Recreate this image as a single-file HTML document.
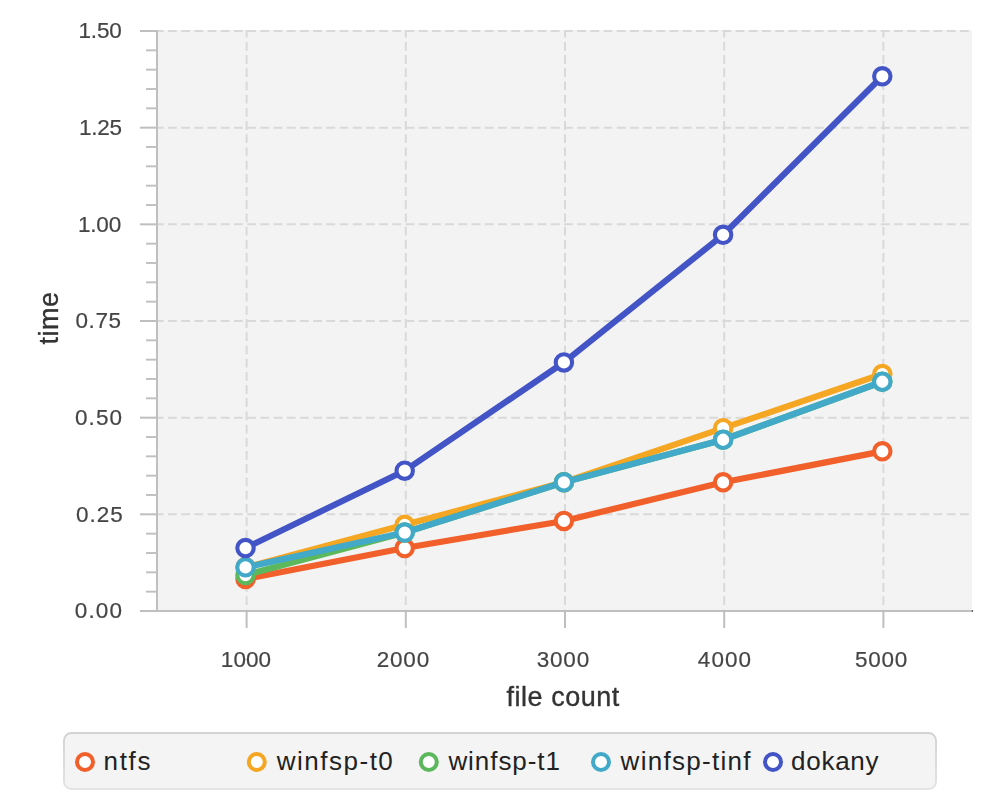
<!DOCTYPE html>
<html><head><meta charset="utf-8"><style>
html,body{margin:0;padding:0;background:#fff;width:1000px;height:800px;overflow:hidden;}
svg{position:absolute;left:0;top:0;display:block;}
#m{will-change:transform;}
text{font-family:"Liberation Sans",sans-serif;}
.lab{font-size:22.5px;fill:#454545;stroke:#454545;stroke-width:0.2px;}
.ttl{font-size:27px;fill:#333;stroke:#333;stroke-width:0.35px;}
.leg{font-size:26px;fill:#222;}

</style></head><body>
<svg id="m" width="1000" height="722" viewBox="0 0 1000 722">
<defs><clipPath id="pc"><rect x="157" y="30" width="815" height="581"/></clipPath></defs>
<rect x="157" y="30" width="815" height="581" fill="#f3f3f3"/>
<g clip-path="url(#pc)">
<line x1="154.8" y1="514.33" x2="972" y2="514.33" stroke="#d9d9d9" stroke-width="2" stroke-dasharray="8.8 4.4"/>
<line x1="154.8" y1="417.67" x2="972" y2="417.67" stroke="#d9d9d9" stroke-width="2" stroke-dasharray="8.8 4.4"/>
<line x1="154.8" y1="321.00" x2="972" y2="321.00" stroke="#d9d9d9" stroke-width="2" stroke-dasharray="8.8 4.4"/>
<line x1="154.8" y1="224.33" x2="972" y2="224.33" stroke="#d9d9d9" stroke-width="2" stroke-dasharray="8.8 4.4"/>
<line x1="154.8" y1="127.67" x2="972" y2="127.67" stroke="#d9d9d9" stroke-width="2" stroke-dasharray="8.8 4.4"/>
<line x1="154.8" y1="31.00" x2="972" y2="31.00" stroke="#d9d9d9" stroke-width="2" stroke-dasharray="8.8 4.4"/>
<line x1="246.60" y1="28.7" x2="246.60" y2="611" stroke="#d9d9d9" stroke-width="2" stroke-dasharray="8.8 4.4"/>
<line x1="405.80" y1="28.7" x2="405.80" y2="611" stroke="#d9d9d9" stroke-width="2" stroke-dasharray="8.8 4.4"/>
<line x1="565.00" y1="28.7" x2="565.00" y2="611" stroke="#d9d9d9" stroke-width="2" stroke-dasharray="8.8 4.4"/>
<line x1="724.20" y1="28.7" x2="724.20" y2="611" stroke="#d9d9d9" stroke-width="2" stroke-dasharray="8.8 4.4"/>
<line x1="883.40" y1="28.7" x2="883.40" y2="611" stroke="#d9d9d9" stroke-width="2" stroke-dasharray="8.8 4.4"/>
</g>
<line x1="157" y1="30" x2="157" y2="612" stroke="#bfbfbf" stroke-width="2"/>
<line x1="140" y1="611" x2="972" y2="611" stroke="#bfbfbf" stroke-width="2"/>
<rect x="971.8" y="610" width="1.3" height="2" fill="#666"/>
<line x1="140" y1="611.00" x2="157" y2="611.00" stroke="#bfbfbf" stroke-width="2"/>
<line x1="146" y1="591.67" x2="157" y2="591.67" stroke="#bfbfbf" stroke-width="1.9"/>
<line x1="146" y1="572.33" x2="157" y2="572.33" stroke="#bfbfbf" stroke-width="1.9"/>
<line x1="146" y1="553.00" x2="157" y2="553.00" stroke="#bfbfbf" stroke-width="1.9"/>
<line x1="146" y1="533.67" x2="157" y2="533.67" stroke="#bfbfbf" stroke-width="1.9"/>
<line x1="140" y1="514.33" x2="157" y2="514.33" stroke="#bfbfbf" stroke-width="2"/>
<line x1="146" y1="495.00" x2="157" y2="495.00" stroke="#bfbfbf" stroke-width="1.9"/>
<line x1="146" y1="475.67" x2="157" y2="475.67" stroke="#bfbfbf" stroke-width="1.9"/>
<line x1="146" y1="456.33" x2="157" y2="456.33" stroke="#bfbfbf" stroke-width="1.9"/>
<line x1="146" y1="437.00" x2="157" y2="437.00" stroke="#bfbfbf" stroke-width="1.9"/>
<line x1="140" y1="417.67" x2="157" y2="417.67" stroke="#bfbfbf" stroke-width="2"/>
<line x1="146" y1="398.33" x2="157" y2="398.33" stroke="#bfbfbf" stroke-width="1.9"/>
<line x1="146" y1="379.00" x2="157" y2="379.00" stroke="#bfbfbf" stroke-width="1.9"/>
<line x1="146" y1="359.67" x2="157" y2="359.67" stroke="#bfbfbf" stroke-width="1.9"/>
<line x1="146" y1="340.33" x2="157" y2="340.33" stroke="#bfbfbf" stroke-width="1.9"/>
<line x1="140" y1="321.00" x2="157" y2="321.00" stroke="#bfbfbf" stroke-width="2"/>
<line x1="146" y1="301.67" x2="157" y2="301.67" stroke="#bfbfbf" stroke-width="1.9"/>
<line x1="146" y1="282.33" x2="157" y2="282.33" stroke="#bfbfbf" stroke-width="1.9"/>
<line x1="146" y1="263.00" x2="157" y2="263.00" stroke="#bfbfbf" stroke-width="1.9"/>
<line x1="146" y1="243.67" x2="157" y2="243.67" stroke="#bfbfbf" stroke-width="1.9"/>
<line x1="140" y1="224.33" x2="157" y2="224.33" stroke="#bfbfbf" stroke-width="2"/>
<line x1="146" y1="205.00" x2="157" y2="205.00" stroke="#bfbfbf" stroke-width="1.9"/>
<line x1="146" y1="185.67" x2="157" y2="185.67" stroke="#bfbfbf" stroke-width="1.9"/>
<line x1="146" y1="166.33" x2="157" y2="166.33" stroke="#bfbfbf" stroke-width="1.9"/>
<line x1="146" y1="147.00" x2="157" y2="147.00" stroke="#bfbfbf" stroke-width="1.9"/>
<line x1="140" y1="127.67" x2="157" y2="127.67" stroke="#bfbfbf" stroke-width="2"/>
<line x1="146" y1="108.33" x2="157" y2="108.33" stroke="#bfbfbf" stroke-width="1.9"/>
<line x1="146" y1="89.00" x2="157" y2="89.00" stroke="#bfbfbf" stroke-width="1.9"/>
<line x1="146" y1="69.67" x2="157" y2="69.67" stroke="#bfbfbf" stroke-width="1.9"/>
<line x1="146" y1="50.33" x2="157" y2="50.33" stroke="#bfbfbf" stroke-width="1.9"/>
<line x1="140" y1="31.00" x2="157" y2="31.00" stroke="#bfbfbf" stroke-width="2"/>
<line x1="246.60" y1="611" x2="246.60" y2="628" stroke="#bfbfbf" stroke-width="2"/>
<line x1="405.80" y1="611" x2="405.80" y2="628" stroke="#bfbfbf" stroke-width="2"/>
<line x1="565.00" y1="611" x2="565.00" y2="628" stroke="#bfbfbf" stroke-width="2"/>
<line x1="724.20" y1="611" x2="724.20" y2="628" stroke="#bfbfbf" stroke-width="2"/>
<line x1="883.40" y1="611" x2="883.40" y2="628" stroke="#bfbfbf" stroke-width="2"/>
<text x="78.50" y="38.30" class="lab" style="letter-spacing:-0.167px">1.50</text>
<text x="78.90" y="134.97" class="lab" style="letter-spacing:-0.200px">1.25</text>
<text x="77.90" y="231.63" class="lab" style="letter-spacing:-0.167px">1.00</text>
<text x="75.50" y="328.30" class="lab" style="letter-spacing:0.600px">0.75</text>
<text x="75.00" y="424.97" class="lab" style="letter-spacing:1.100px">0.50</text>
<text x="75.90" y="521.63" class="lab" style="letter-spacing:1.067px">0.25</text>
<text x="74.80" y="618.30" class="lab" style="letter-spacing:1.133px">0.00</text>
<text x="220.80" y="667.30" class="lab" style="letter-spacing:0.067px">1000</text>
<text x="376.80" y="667.30" class="lab" style="letter-spacing:0.767px">2000</text>
<text x="536.80" y="667.30" class="lab" style="letter-spacing:0.767px">3000</text>
<text x="697.80" y="667.30" class="lab" style="letter-spacing:1.067px">4000</text>
<text x="855.00" y="667.30" class="lab" style="letter-spacing:0.733px">5000</text>
<text x="506.50" y="705.70" class="ttl" style="letter-spacing:0.533px">file count</text>
<text transform="translate(58.00,344.50) rotate(-90)" class="ttl" style="letter-spacing:0.500px">time</text>
<polyline points="245.50,578.97 404.70,548.03 563.90,520.97 723.10,482.30 882.30,451.37" fill="none" stroke="#f15f2a" stroke-width="6.2" stroke-linejoin="round"/>
<circle cx="245.50" cy="578.97" r="8.2" fill="#fff" stroke="#f15f2a" stroke-width="4.1"/>
<circle cx="404.70" cy="548.03" r="8.2" fill="#fff" stroke="#f15f2a" stroke-width="4.1"/>
<circle cx="563.90" cy="520.97" r="8.2" fill="#fff" stroke="#f15f2a" stroke-width="4.1"/>
<circle cx="723.10" cy="482.30" r="8.2" fill="#fff" stroke="#f15f2a" stroke-width="4.1"/>
<circle cx="882.30" cy="451.37" r="8.2" fill="#fff" stroke="#f15f2a" stroke-width="4.1"/>
<polyline points="245.50,567.37 404.70,524.83 563.90,482.30 723.10,428.17 882.30,374.03" fill="none" stroke="#f5a623" stroke-width="6.2" stroke-linejoin="round"/>
<circle cx="245.50" cy="567.37" r="8.2" fill="#fff" stroke="#f5a623" stroke-width="4.1"/>
<circle cx="404.70" cy="524.83" r="8.2" fill="#fff" stroke="#f5a623" stroke-width="4.1"/>
<circle cx="563.90" cy="482.30" r="8.2" fill="#fff" stroke="#f5a623" stroke-width="4.1"/>
<circle cx="723.10" cy="428.17" r="8.2" fill="#fff" stroke="#f5a623" stroke-width="4.1"/>
<circle cx="882.30" cy="374.03" r="8.2" fill="#fff" stroke="#f5a623" stroke-width="4.1"/>
<polyline points="245.50,575.10 404.70,532.57 563.90,482.30 723.10,439.77 882.30,381.77" fill="none" stroke="#5cb85c" stroke-width="6.2" stroke-linejoin="round"/>
<circle cx="245.50" cy="575.10" r="8.2" fill="#fff" stroke="#5cb85c" stroke-width="4.1"/>
<circle cx="404.70" cy="532.57" r="8.2" fill="#fff" stroke="#5cb85c" stroke-width="4.1"/>
<circle cx="563.90" cy="482.30" r="8.2" fill="#fff" stroke="#5cb85c" stroke-width="4.1"/>
<circle cx="723.10" cy="439.77" r="8.2" fill="#fff" stroke="#5cb85c" stroke-width="4.1"/>
<circle cx="882.30" cy="381.77" r="8.2" fill="#fff" stroke="#5cb85c" stroke-width="4.1"/>
<polyline points="245.50,567.37 404.70,532.57 563.90,482.30 723.10,439.77 882.30,381.77" fill="none" stroke="#42a9c9" stroke-width="6.2" stroke-linejoin="round"/>
<circle cx="245.50" cy="567.37" r="8.2" fill="#fff" stroke="#42a9c9" stroke-width="4.1"/>
<circle cx="404.70" cy="532.57" r="8.2" fill="#fff" stroke="#42a9c9" stroke-width="4.1"/>
<circle cx="563.90" cy="482.30" r="8.2" fill="#fff" stroke="#42a9c9" stroke-width="4.1"/>
<circle cx="723.10" cy="439.77" r="8.2" fill="#fff" stroke="#42a9c9" stroke-width="4.1"/>
<circle cx="882.30" cy="381.77" r="8.2" fill="#fff" stroke="#42a9c9" stroke-width="4.1"/>
<polyline points="245.50,548.03 404.70,470.70 563.90,362.43 723.10,234.83 882.30,76.30" fill="none" stroke="#4254c6" stroke-width="6.2" stroke-linejoin="round"/>
<circle cx="245.50" cy="548.03" r="8.2" fill="#fff" stroke="#4254c6" stroke-width="4.1"/>
<circle cx="404.70" cy="470.70" r="8.2" fill="#fff" stroke="#4254c6" stroke-width="4.1"/>
<circle cx="563.90" cy="362.43" r="8.2" fill="#fff" stroke="#4254c6" stroke-width="4.1"/>
<circle cx="723.10" cy="234.83" r="8.2" fill="#fff" stroke="#4254c6" stroke-width="4.1"/>
<circle cx="882.30" cy="76.30" r="8.2" fill="#fff" stroke="#4254c6" stroke-width="4.1"/>
</svg>
<svg id="l" style="top:722px" width="1000" height="78" viewBox="0 722 1000 78">
<defs><linearGradient id="lg" x1="0" y1="0" x2="0" y2="1"><stop offset="0" stop-color="#d3d3d3"/><stop offset="1" stop-color="#e4e4e4"/></linearGradient></defs>
<rect x="64" y="733" width="872" height="56" rx="7.5" ry="7.5" fill="#f4f4f4" stroke="url(#lg)" stroke-width="2"/>
<circle cx="85" cy="762" r="8" fill="#fff" stroke="#f15f2a" stroke-width="4"/>
<circle cx="256.8" cy="762" r="8" fill="#fff" stroke="#f5a623" stroke-width="4"/>
<circle cx="428.8" cy="762" r="8" fill="#fff" stroke="#5cb85c" stroke-width="4"/>
<circle cx="601" cy="762" r="8" fill="#fff" stroke="#42a9c9" stroke-width="4"/>
<circle cx="773" cy="762" r="8" fill="#fff" stroke="#4254c6" stroke-width="4"/>
<text x="103.50" y="769.60" class="leg" style="letter-spacing:1.667px">ntfs</text>
<text x="276.70" y="769.60" class="leg" style="letter-spacing:1.513px">winfsp-t0</text>
<text x="448.40" y="769.60" class="leg" style="letter-spacing:0.938px">winfsp-t1</text>
<text x="620.60" y="769.60" class="leg" style="letter-spacing:1.290px">winfsp-tinf</text>
<text x="791.10" y="769.60" class="leg" style="letter-spacing:0.720px">dokany</text>
</svg>
</body></html>
